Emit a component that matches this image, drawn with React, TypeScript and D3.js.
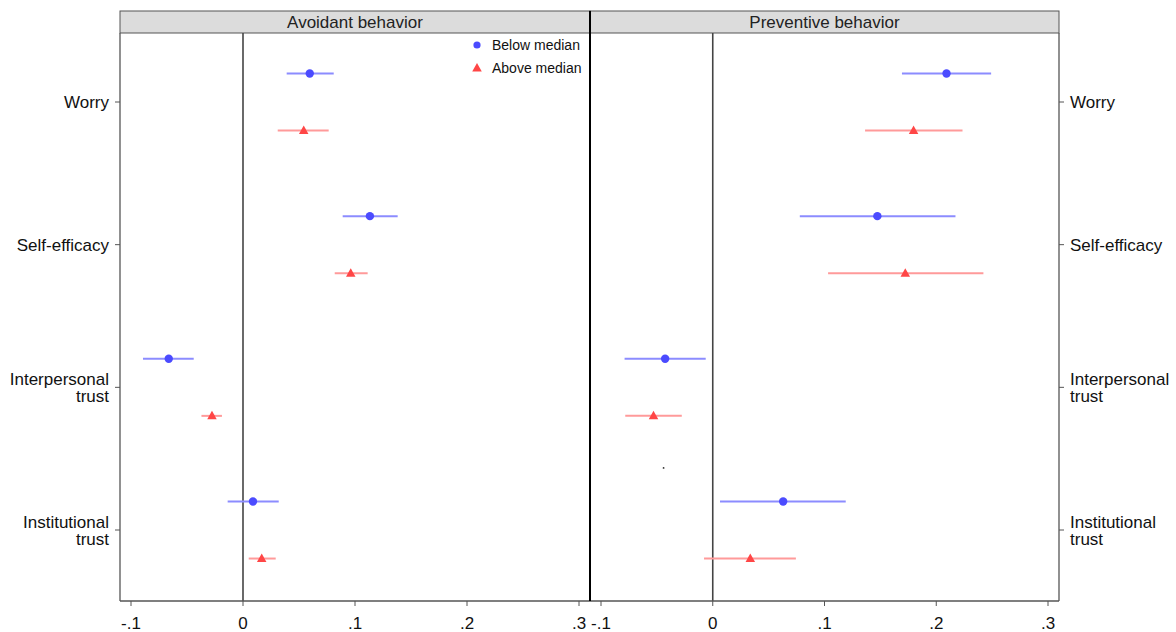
import React from "react";
import * as d3 from "d3";

// Outcome rows (top to bottom)
const categories = ["Worry", "Self-efficacy", "Interpersonal trust", "Institutional trust"];
const panels = ["Avoidant behavior", "Preventive behavior"];
const xTicks = [-0.1, 0, 0.1, 0.2, 0.3];
const groups = ["Below median", "Above median"];

// Avoidant behavior: coefficient estimates and confidence bounds
const avoidBelow = [0.0596, 0.1133, -0.0663, 0.0089];
const avoidBelowLo = [0.039, 0.089, -0.0893, -0.0137];
const avoidBelowHi = [0.081, 0.1381, -0.044, 0.0319];
const avoidAbove = [0.0542, 0.0962, -0.0277, 0.0167];
const avoidAboveLo = [0.031, 0.0819, -0.0371, 0.0051];
const avoidAboveHi = [0.0765, 0.1113, -0.0188, 0.0292];

// Preventive behavior: coefficient estimates and confidence bounds
const prevBelow = [0.2092, 0.1473, -0.0426, 0.063];
const prevBelowLo = [0.1693, 0.0779, -0.0789, 0.0065];
const prevBelowHi = [0.2491, 0.2172, -0.0063, 0.119];
const prevAbove = [0.1797, 0.1723, -0.053, 0.0336];
const prevAboveLo = [0.1363, 0.1032, -0.0783, -0.0078];
const prevAboveHi = [0.2235, 0.2422, -0.0277, 0.0744];

// lone marker in the preventive panel (value, row position)
const prevStray = { value: -0.044, row: 2.565 };

const W = 1176;
const H = 632;
const top = 33;
const bottom = 601;
const headerTop = 11;
const FONT = "Liberation Sans, Arial, sans-serif";

const BLUE = "#4b4bff";
const BLUE_LINE = "#8c8cff";
const RED = "#ff4646";
const RED_LINE = "#ff9a9a";

// Stata-style tick labels: ".1", "-.1", "0"
const fmt = (v: number) => {
  if (v === 0) return "0";
  const s = Math.abs(v).toFixed(1).replace(/^0/, "");
  return v < 0 ? "-" + s : s;
};

type Series = { est: number[]; lo: number[]; hi: number[] };

const panelData: { below: Series; above: Series }[] = [
  {
    below: { est: avoidBelow, lo: avoidBelowLo, hi: avoidBelowHi },
    above: { est: avoidAbove, lo: avoidAboveLo, hi: avoidAboveHi },
  },
  {
    below: { est: prevBelow, lo: prevBelowLo, hi: prevBelowHi },
    above: { est: prevAbove, lo: prevAboveLo, hi: prevAboveHi },
  },
];

const panelBounds = [
  { left: 120, right: 590 },
  { left: 590, right: 1059 },
];

const y = d3.scaleLinear().domain([0, categories.length - 1]).range([102, 530]);
const offset = 0.2;

function Triangle({ cx, cy, fill }: { cx: number; cy: number; fill: string }) {
  const s = 5;
  const p = d3.path();
  p.moveTo(cx, cy - s);
  p.lineTo(cx + s * 0.95, cy + s * 0.7);
  p.lineTo(cx - s * 0.95, cy + s * 0.7);
  p.closePath();
  return <path d={p.toString()} fill={fill} />;
}

function Panel({ idx }: { idx: number }) {
  const { left, right } = panelBounds[idx];
  const x = d3.scaleLinear().domain([-0.1, 0.3]).range([left + 11, right - 11]);
  const { below, above } = panelData[idx];
  return (
    <g>
      {/* header strip */}
      <rect x={left} y={headerTop} width={right - left} height={top - headerTop} fill="#dcdcdc" stroke="#555" strokeWidth={1} />
      <text x={(left + right) / 2} y={28} textAnchor="middle" fontFamily={FONT} fontSize={17} fill="#222">
        {panels[idx]}
      </text>
      {/* zero reference line */}
      <line x1={x(0)} x2={x(0)} y1={top} y2={bottom} stroke="#444" strokeWidth={1.6} />
      {/* bottom axis */}
      <line x1={left} x2={right} y1={bottom} y2={bottom} stroke="#555" strokeWidth={1.3} />
      {xTicks.map((t) => (
        <g key={t}>
          <line x1={x(t)} x2={x(t)} y1={bottom} y2={bottom + 5} stroke="#555" strokeWidth={1} />
          <text x={x(t)} y={629} textAnchor="middle" fontFamily={FONT} fontSize={17} fill="#111">
            {fmt(t)}
          </text>
        </g>
      ))}
      {/* confidence intervals and estimates */}
      {categories.map((c, i) => (
        <g key={c}>
          <line x1={x(below.lo[i])} x2={x(below.hi[i])} y1={y(i - offset)} y2={y(i - offset)} stroke={BLUE_LINE} strokeWidth={2} />
          <circle cx={x(below.est[i])} cy={y(i - offset)} r={4.2} fill={BLUE} />
          <line x1={x(above.lo[i])} x2={x(above.hi[i])} y1={y(i + offset)} y2={y(i + offset)} stroke={RED_LINE} strokeWidth={2} />
          <Triangle cx={x(above.est[i])} cy={y(i + offset)} fill={RED} />
        </g>
      ))}
      {idx === 1 && <circle cx={x(prevStray.value)} cy={y(prevStray.row)} r={0.9} fill="#333" />}
    </g>
  );
}

export default function App() {
  const leftEdge = panelBounds[0].left;
  const rightEdge = panelBounds[1].right;
  return (
    <div style={{ position: "absolute", left: 0, top: 0 }}>
      <svg width={W} height={H} style={{ display: "block", background: "#fff" }}>
        <rect x={0} y={0} width={W} height={H} fill="#fff" />
        <Panel idx={0} />
        <Panel idx={1} />
        {/* outer frame sides */}
        <line x1={leftEdge} x2={leftEdge} y1={top} y2={bottom} stroke="#555" strokeWidth={1.3} />
        <line x1={rightEdge} x2={rightEdge} y1={top} y2={bottom} stroke="#555" strokeWidth={1.3} />
        <line x1={590} x2={590} y1={headerTop} y2={bottom} stroke="#000" strokeWidth={2} />
        {/* row labels, both sides */}
        {categories.map((c, i) => {
          const words = c.split(" ");
          const lines = words.length > 1 ? [words[0], words.slice(1).join(" ")] : [c];
          const cy = y(i);
          return (
            <g key={c}>
              <line x1={leftEdge - 5} x2={leftEdge} y1={cy} y2={cy} stroke="#555" strokeWidth={1} />
              <line x1={rightEdge} x2={rightEdge + 5} y1={cy} y2={cy} stroke="#555" strokeWidth={1} />
              {lines.map((l, k) => {
                const dy = lines.length === 1 ? 6 : k === 0 ? -2 : 15;
                return (
                  <g key={l}>
                    <text x={109} y={cy + dy} textAnchor="end" fontFamily={FONT} fontSize={17} fill="#111">
                      {l}
                    </text>
                    <text x={1070} y={cy + dy} textAnchor="start" fontFamily={FONT} fontSize={17} fill="#111">
                      {l}
                    </text>
                  </g>
                );
              })}
            </g>
          );
        })}
        {/* legend */}
        <circle cx={477} cy={45} r={3.6} fill={BLUE} />
        <text x={492} y={50} fontFamily={FONT} fontSize={14} fill="#111">
          {groups[0]}
        </text>
        <Triangle cx={477} cy={68} fill={RED} />
        <text x={492} y={73} fontFamily={FONT} fontSize={14} fill="#111">
          {groups[1]}
        </text>
      </svg>
    </div>
  );
}
